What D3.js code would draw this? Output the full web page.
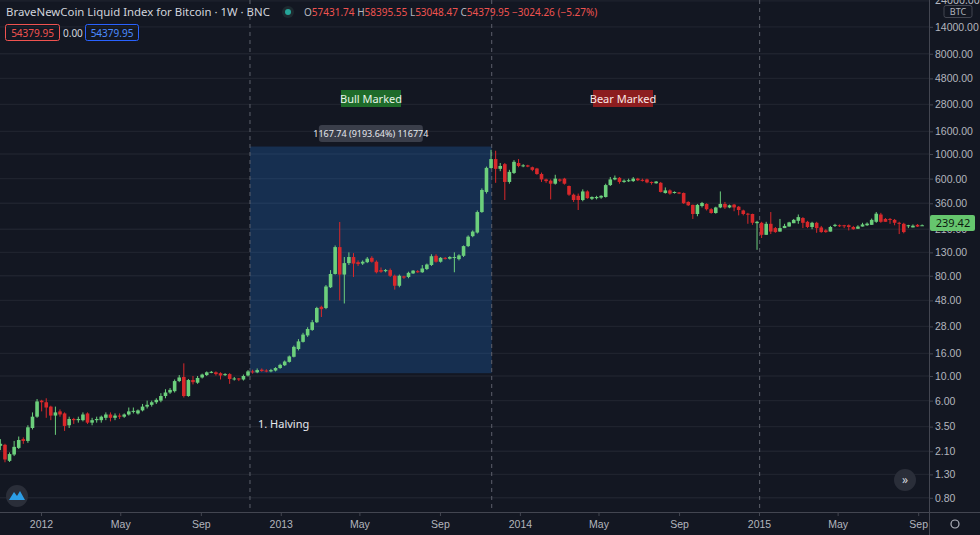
<!DOCTYPE html>
<html><head><meta charset="utf-8">
<script src="https://cdn.jsdelivr.net/npm/d3@7"></script>
<style>
html,body{margin:0;padding:0;background:#131722;overflow:hidden}
svg{display:block;font-family:"Noto Sans",Roboto,sans-serif}
</style></head>
<body>
<svg id="c" width="980" height="535"></svg>
<script>
const startDate = "2011-10-24";
const opens = [2.76,2.35,2.4,1.72,1.96,2.25,2.7,2.6,3.4,4.3,6.0,5.8,5.3,4.4,4.8,4.6,3.6,4.1,4.0,4.0,4.6,3.8,4.0,4.0,4.2,4.5,4.2,4.4,4.3,4.5,4.75,4.6,4.9,5.3,5.5,5.8,6.0,6.6,7.1,7.3,9.0,9.8,6.6,9.2,8.7,9.7,10.2,10.8,10.8,10.6,10.2,10.4,9.4,9.5,9.3,10.1,11,10.8,11.4,11.2,11.0,11.2,11.8,12.5,13.4,14.9,17.5,20.3,23.2,26,30.5,42,41,63,83,145,82,104,118,106,103,106,116,107,90,88,90,80,65,79,78,84,88,86,92,100,121,107,116,114,117,113,121,148,182,196,300,455,748,900,735,810,560,675,830,775,790,760,740,660,590,575,540,590,600,515,430,420,385,460,395,400,405,410,525,590,610,560,575,570,600,585,590,560,545,550,445,470,445,450,445,370,348,288,340,355,318,294,330,355,330,350,335,310,290,288,238,240,187,235,215,200,215,222,238,250,265,245,220,240,218,205,200,225,228,228,228,220,212,222,228,230,245,285,260,260,255,240,235,225,218,230,225,228];
const highs = [2.9,2.7,2.45,2.05,2.6,2.85,2.8,3.6,4.7,6.2,6.1,6.3,5.4,5.3,5.0,4.7,4.3,4.2,4.3,4.7,4.7,4.2,4.3,4.4,4.7,4.7,4.6,4.6,4.6,5.2,5.2,5.0,5.6,6.0,6.0,6.3,7.0,7.6,7.8,9.3,10.2,13.0,9.4,10,10,10.5,11,11.1,11,10.8,10.6,10.6,9.8,9.6,10.3,11.3,11.4,11.7,11.7,11.5,11.6,12,12.9,13.8,15.3,18.8,21.5,24.5,27.5,32,42,43,66,90,150,244,118,130,128,110,110,118,120,110,95,92,93,82,82,80,87,90,90,100,103,125,125,118,118,120,130,125,150,185,205,310,490,770,1090,1070,830,830,720,880,900,810,800,770,750,680,600,590,650,600,610,520,440,440,480,470,415,420,425,540,620,640,620,590,600,620,610,600,600,565,570,560,500,480,460,455,450,375,350,355,370,360,325,335,460,370,350,355,340,315,295,290,250,245,245,300,220,260,235,245,260,285,270,250,245,245,225,210,225,235,232,230,232,225,228,240,242,262,300,295,265,265,260,245,240,230,232,234,232,234];
const lows = [2.3,2.15,1.67,1.68,1.9,2.2,2.45,2.5,3.3,4.2,4.8,4.2,4.0,2.95,4.3,3.2,3.4,3.7,3.8,3.9,3.7,3.6,3.8,3.8,4.0,3.9,4.0,4.1,4.2,4.4,4.6,4.5,4.8,5.1,5.3,5.6,5.8,6.3,6.9,7.1,8.8,6.4,6.5,8.4,8.5,9.5,10,10.6,10.1,9.3,10,8.5,9.1,9.0,9.1,9.9,10.5,10.6,10.9,10.8,10.8,11,11.6,12.3,13.2,14.7,17,20,22.5,25.5,30,34,40,62,82,48,45,100,78,98,100,104,105,84,85,86,78,60,63,75,76,83,85,85,90,98,105,105,112,112,86,110,118,145,178,192,295,440,740,550,700,385,540,660,760,760,760,700,650,560,550,390,530,560,530,420,370,313,375,395,385,390,395,405,515,580,540,550,560,560,570,565,545,530,540,450,440,430,440,435,355,340,260,275,330,310,290,290,325,320,325,305,280,280,235,230,137,175,195,190,195,210,218,232,245,235,215,215,210,195,195,195,220,220,220,215,205,208,220,224,225,240,240,240,245,235,228,190,193,215,218,220,225];
const closes = [2.38,2.45,1.77,1.98,2.3,2.65,2.6,3.45,4.3,5.9,5.8,5.2,4.4,4.7,4.5,3.55,4.1,4.0,4.1,4.5,3.8,4.0,4.1,4.3,4.5,4.2,4.4,4.3,4.5,4.8,4.85,4.9,5.3,5.5,5.8,6.1,6.6,7.1,7.5,9.0,9.7,6.6,9.2,8.8,9.6,10.3,10.8,10.9,10.4,10.1,10.4,9.4,9.5,9.3,10.0,11.0,10.8,11.3,11.1,11.0,11.3,11.8,12.6,13.5,15,18.3,20.5,23.6,26.5,30.5,41,40,64,83,145,82,104,118,103,102,107,114,107,86,87,90,80,65,80,77,85,89,86,93,101,120,107,116,115,118,118,122,148,180,200,300,474,750,900,735,780,560,690,850,780,790,770,720,660,590,570,540,600,575,540,430,385,385,460,400,410,410,420,525,590,610,560,575,580,600,580,575,555,550,565,455,470,440,455,440,360,345,288,348,362,318,294,330,355,330,345,330,313,288,285,240,245,187,235,200,198,215,225,242,255,270,240,220,240,215,198,198,220,230,226,224,220,210,222,232,236,255,290,245,245,255,240,235,198,228,226,222,228,230];
const yTicks = [0.8,1.3,2.1,3.5,6,10,16,28,48,80,130,210,360,600,1000,1600,2800,4800,8000,14000,24000];
const xTickLabels = ["2012","May","Sep","2013","May","Sep","2014","May","Sep","2015","May","Sep"];
const xTickDates = ["2012-01-01","2012-05-01","2012-09-01","2013-01-01","2013-05-01","2013-09-01","2014-01-01","2014-05-01","2014-09-01","2015-01-01","2015-05-01","2015-09-01"];
const markerDates = ["2012-11-15","2013-11-19","2015-01-02"];
const rangeHigh = 1167.74, rangeLow = 10.6;
const rangeStart = "2012-11-15", rangeEnd = "2013-11-19";
const lastPrice = 239.42;

const svg = d3.select("#c");
const W = 929, H = 512;
const x = d3.scaleUtc().domain([new Date("2012-01-01"), new Date("2015-01-01")]).range([41, 759]);
const y = d3.scaleLog().domain([1000, 10]).range([154, 376]);
const bg = "#131722", grid = "#1f232e", txt = "#b2b5be";
const up = "#6ccf7c", dn = "#d8282b";

svg.append("rect").attr("width",980).attr("height",535).attr("fill",bg);
svg.append("clipPath").attr("id","clip").append("rect").attr("x",0).attr("y",0).attr("width",W).attr("height",H);
const plot = svg.append("g").attr("clip-path","url(#clip)");
yTicks.forEach(v=>{ plot.append("line").attr("x1",0).attr("x2",W).attr("y1",y(v)).attr("y2",y(v)).attr("stroke",grid).attr("stroke-width",1.3); });
plot.append("rect").attr("x",x(new Date(rangeStart))).attr("width",x(new Date(rangeEnd))-x(new Date(rangeStart)))
 .attr("y",y(rangeHigh)).attr("height",y(rangeLow)-y(rangeHigh)).attr("fill","rgba(33,110,200,0.28)");
markerDates.forEach(d=>{ plot.append("line").attr("x1",x(new Date(d))).attr("x2",x(new Date(d))).attr("y1",0).attr("y2",H)
 .attr("stroke","#5d606b").attr("stroke-dasharray","4,4"); });
const n = Math.min(opens.length, highs.length, lows.length, closes.length);
const t0 = new Date(startDate);
const data = d3.range(n).map(i=>({d:new Date(t0.getTime()+i*7*864e5),o:opens[i],h:highs[i],l:lows[i],c:closes[i]}));
data.forEach(k=>{
  const cx = x(k.d), col = k.c>=k.o?up:dn;
  const hi = Math.max(k.h,k.o,k.c), lo = Math.min(k.l,k.o,k.c);
  plot.append("line").attr("x1",cx).attr("x2",cx).attr("y1",y(hi)).attr("y2",y(lo)).attr("stroke",col).attr("stroke-width",1);
  const t=y(Math.max(k.o,k.c)), b=y(Math.min(k.o,k.c));
  plot.append("rect").attr("x",cx-1.8).attr("width",3.6).attr("y",t).attr("height",Math.max(1,b-t)).attr("fill",col);
});
const rx = (x(new Date(rangeStart))+x(new Date(rangeEnd)))/2;
svg.append("rect").attr("x",rx-52).attr("y",125).attr("width",104).attr("height",17).attr("rx",3).attr("fill","#3a3e4a");
svg.append("text").attr("x",rx).attr("y",137).attr("text-anchor","middle").attr("fill","#e6e8ee").attr("font-size",9).text(`${rangeHigh} (9193.64%) 116774`);
function tag(cx,label,fill,col){
  svg.append("rect").attr("x",cx-30).attr("y",90).attr("width",60).attr("height",17).attr("fill",fill);
  svg.append("text").attr("x",cx).attr("y",102.5).attr("text-anchor","middle").attr("font-size",11).attr("fill",col).text(label);
}
tag(371,"Bull Marked","#1e6b2a","#e8f5e9");
tag(623,"Bear Marked","#8c1d1f","#fbe9e7");
svg.append("text").attr("x",258).attr("y",428).attr("fill","#e6e8ee").attr("font-size",11).text("1. Halving");
svg.append("line").attr("x1",W+0.5).attr("x2",W+0.5).attr("y1",0).attr("y2",535).attr("stroke","#434651");
svg.append("line").attr("x1",0).attr("x2",980).attr("y1",H+0.5).attr("y2",H+0.5).attr("stroke","#434651");
const ya = svg.append("g").attr("transform",`translate(${W},0)`).call(d3.axisRight(y).tickValues(yTicks.filter(v=>v<20000)).tickSize(4).tickFormat(d3.format(".2f")));
ya.select(".domain").remove();
ya.selectAll("line").attr("stroke","#434651");
ya.selectAll("text").attr("fill",txt).attr("font-size",10.5).attr("x",6);
svg.append("text").attr("x",935).attr("y",4).attr("font-size",10.5).attr("fill",txt).text(d3.format(".2f")(24000));
const xa = svg.append("g").attr("transform",`translate(0,${H})`).call(d3.axisBottom(x).tickValues(xTickDates.map(d=>new Date(d))).tickSize(4).tickFormat((d,i)=>xTickLabels[i]));
xa.select(".domain").remove();
xa.selectAll("line").attr("stroke","#434651");
xa.selectAll("text").attr("fill",txt).attr("font-size",10.5).attr("dy","0.9em");
svg.append("rect").attr("x",W+1).attr("y",y(lastPrice)-8).attr("width",45).attr("height",16).attr("rx",2).attr("fill","#66c66e");
svg.append("text").attr("x",W+24).attr("y",y(lastPrice)+4).attr("text-anchor","middle").attr("font-size",11).attr("fill","#0d1a10").text(lastPrice.toFixed(2));
svg.append("rect").attr("x",944).attr("y",5.5).attr("width",28).attr("height",12).attr("rx",2).attr("fill",bg).attr("stroke","#434651");
svg.append("text").attr("x",958).attr("y",15).attr("text-anchor","middle").attr("font-size",9).attr("fill",txt).text("BTC");
svg.append("text").attr("x",6).attr("y",16).attr("font-size",11.4).attr("fill","#d1d4dc").text("BraveNewCoin Liquid Index for Bitcoin · 1W · BNC");
svg.append("circle").attr("cx",288).attr("cy",12).attr("r",6).attr("fill","#1e2a30");
svg.append("circle").attr("cx",288).attr("cy",12).attr("r",3).attr("fill","#26a69a");
const ohlc = [["O","57431.74"],["H","58395.55"],["L","53048.47"],["C","54379.95 −3024.26 (−5.27%)"]];
const ht = svg.append("text").attr("x",304).attr("y",16).attr("font-size",10);
ohlc.forEach(([k,v],i)=>{ ht.append("tspan").attr("fill","#b2b5be").text((i?" ":"")+k); ht.append("tspan").attr("fill","#ef5350").text(v); });
svg.append("rect").attr("x",5.5).attr("y",24.5).attr("width",54).attr("height",16).attr("rx",2).attr("fill","none").attr("stroke","#ef5350");
svg.append("text").attr("x",32.5).attr("y",36.5).attr("text-anchor","middle").attr("font-size",10).attr("fill","#ef5350").text("54379.95");
svg.append("text").attr("x",63).attr("y",36.5).attr("font-size",10).attr("fill","#d1d4dc").text("0.00");
svg.append("rect").attr("x",85.5).attr("y",24.5).attr("width",53).attr("height",16).attr("rx",2).attr("fill","none").attr("stroke","#2962ff");
svg.append("text").attr("x",112).attr("y",36.5).attr("text-anchor","middle").attr("font-size",10).attr("fill","#4c8cff").text("54379.95");
svg.append("circle").attr("cx",17).attr("cy",496).attr("r",11).attr("fill","#2a2e39");
svg.append("path").attr("d","M9,500 L14,492 L17,496 L20,491 L25,500 Z").attr("fill","#2c9ee6");
svg.append("circle").attr("cx",905).attr("cy",480).attr("r",11).attr("fill","#2a2e39");
svg.append("text").attr("x",905).attr("y",484).attr("text-anchor","middle").attr("font-size",12).attr("fill","#d1d4dc").text("»");
svg.append("circle").attr("cx",955).attr("cy",524).attr("r",4).attr("fill","none").attr("stroke",txt).attr("stroke-width",1.2);
</script>
</body></html>
